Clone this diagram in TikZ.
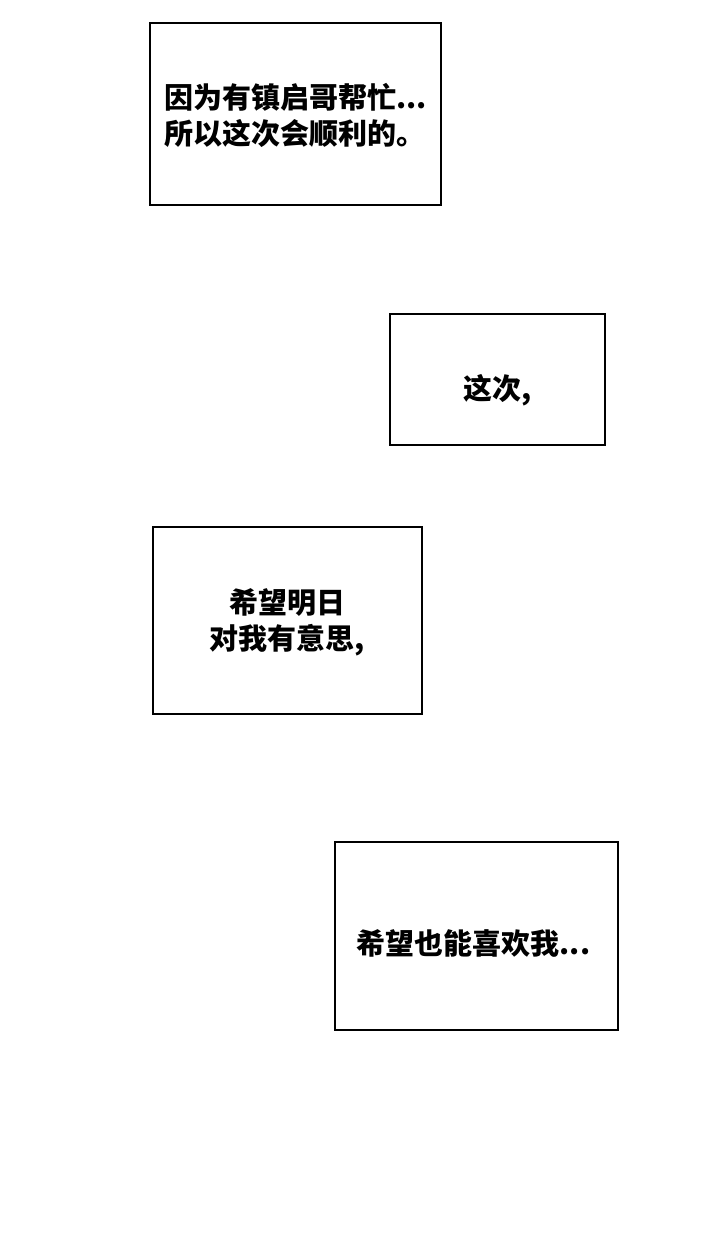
\documentclass[tikz,border=0pt]{standalone}
\usepackage{fontspec}
\newfontfamily\cjk{Noto Sans CJK SC}
\begin{document}
\begin{tikzpicture}[x=1pt,y=-1pt,
  panel/.style={draw, line width=2pt, inner sep=0pt},
  words/.style={inner sep=0pt, font=\cjk\bfseries\fontsize{29}{36}\selectfont}]
\useasboundingbox (0,0) rectangle (720,1240);

  \node[panel, minimum width=291pt, minimum height=182pt] (first) at (295.5,114) {};
  \node[words, align=left] (firsttext) at ([yshift=-1pt]first.center) {因为有镇启哥帮忙...\\所以这次会顺利的。};

  \node[panel, minimum width=215pt, minimum height=131pt] (second) at (497.5,379.5) {};
  \node[words] (secondtext) at ([yshift=-11pt]second.center) {这次,};

  \node[panel, minimum width=269pt, minimum height=187pt] (third) at (287.5,620.5) {};
  \node[words, align=center] (thirdtext) at ([yshift=-2pt]third.center) {希望明日\\对我有意思,};

  \node[panel, minimum width=283pt, minimum height=188pt] (fourth) at (476.5,936) {};
  \node[words] (fourthtext) at ([xshift=-3pt,yshift=-7pt]fourth.center) {希望也能喜欢我...};
\end{tikzpicture}
\end{document}
